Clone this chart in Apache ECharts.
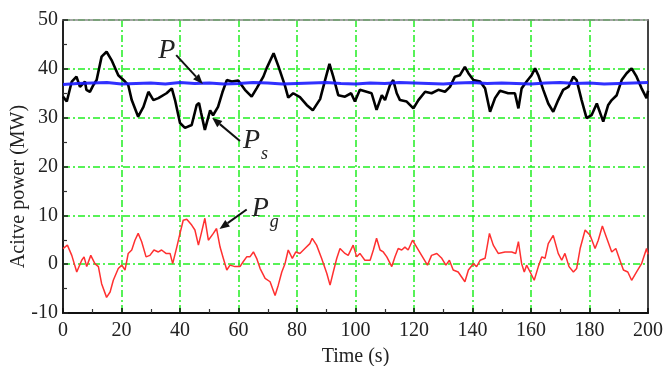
<!DOCTYPE html>
<html><head><meta charset="utf-8">
<script src="https://cdn.jsdelivr.net/npm/echarts@6/dist/echarts.min.js"></script>
<style>html,body{margin:0;padding:0;background:#fff}#c{width:664px;height:366px}</style>
</head><body><div id="c"></div>
<script>
const xTicks = [0,20,40,60,80,100,120,140,160,180,200];
const yTicks = [-10,0,10,20,30,40,50];
const psTime = [0,1.3,3,4.6,5.8,7.5,8,9.2,10.4,11.5,13.2,14.9,16.6,18.9,21.2,22.3,23.5,25.7,27.5,29.2,30.9,32.6,35.4,37.2,38.3,40,41.7,44,45.7,46.5,47.2,48.5,50.3,51.3,53,54.5,56,57.7,59.9,62.2,64.5,66.2,68.5,69.6,72,73.6,75.9,77,78.7,81,83.3,85.4,87.9,89.6,91.1,92.4,94.1,96.4,98.5,99.8,101.5,103.8,105.5,107.2,109,110.1,111.8,112.9,114.1,115.2,117.5,119.8,121.5,123.8,126,128.3,130.6,132.3,134,135.7,137.4,138.6,140.3,142.6,144.3,146,147.7,149.4,152.2,154.5,155.7,156.8,158.5,160.2,161.4,162.5,164.2,165.9,167.6,169.3,171,172.8,174.5,175.6,177.3,179,180.7,182.5,184.7,186.4,187.6,189.3,191,192.7,194.4,196.1,197.8,199.5,200];
const psValues = [34.3,33.3,37.4,38.4,36.3,37.4,35.7,35.3,36.7,37.7,42.5,43.5,41.8,38.7,37.4,36.7,33.6,30.2,32.2,35.3,33.6,34,35,36,33.6,28.9,27.9,28.5,32.6,33,31,27.5,31.5,30.5,32.2,35.2,37.7,37.4,37.6,35.7,34.3,36,38.4,40.1,43.2,40.6,36.5,34.1,35,34.2,32.6,31.5,33.8,37.7,41,38.4,34.6,34.3,35,33.3,35.7,35.3,35,31.6,34.6,33.6,36.7,37.7,35,33.6,33.3,31.9,33.6,35.3,35,35.7,35.3,36.3,38.4,38.7,40.4,39.1,37.7,37.4,36,31.2,34,35.5,35,35,31.9,36,37.4,38.7,40.1,38.7,35.7,32.9,31.2,33.6,35.7,36.3,38.4,37.7,33.6,29.9,30.5,32.9,29.2,32.6,33.6,34.6,37.7,39.1,40.1,38.4,36,34,35.5];
const pgTime = [0,1.5,3,4.7,6.4,7.2,8.1,9.5,10.9,12.1,13.2,14.9,16.1,17.2,18.9,20.1,21.2,22.3,23.5,24.6,25.7,26.9,28.4,29.7,31.1,32.6,33.7,35.2,36.6,37.5,38.9,40,41.1,42.3,44,45.1,46.3,47.4,48.5,49.7,50.3,51.4,52.5,53.7,54.8,56,57.1,58.8,60.5,61.6,62.8,63.9,65.1,66.2,67.4,69.1,70.8,72.5,73.6,74.8,75.9,77,78.4,79.6,81,82.7,84.4,85.2,86.7,88.4,90.2,91.3,92.4,93.6,94.7,96.4,97.5,99.2,100.4,101.5,103.2,105,106.1,107.2,108.4,109.5,110.7,112.4,113.5,114.6,115.8,116.9,118,119.5,120.9,122.6,124.6,126,127.8,129.5,130.9,132.1,133.4,135.1,137.4,138.6,140.3,141.4,142.6,144.3,145.8,147.1,148.8,151.1,153.4,154.8,155.7,156.8,157.7,158.5,159.7,161.1,162.5,163.7,164.8,165.9,167.6,169.3,170.5,171.6,173,174.5,175.6,176.8,178.5,180.2,181.9,183,184.4,185.9,187.6,189,190.4,191.6,193.1,194.4,196.1,197.8,199.5,200];
const pgValues = [3.2,3.9,1.8,-1.6,0.8,1.5,-0.5,1.8,0.1,-0.5,-4,-6.8,-5.7,-3.3,-0.9,-0.2,-1.2,2.2,2.9,4.9,6.3,4.6,1.5,1.8,2.9,2.5,2.9,2.2,2.2,0.1,3.5,6.3,9,9.2,8,7,3.9,6.6,9.4,4.9,4.6,6.3,7.3,3.5,1.2,-1.2,-0.2,-0.5,-0.5,0.5,1.5,1.5,2.5,1.2,-0.9,-2.9,-3.6,-6.4,-4.3,-1.6,0.1,2.9,1.2,2.5,2.2,3.2,4.2,5.3,3.9,1.2,-1.9,-4.3,-1.6,1.2,3.2,2.2,1.8,3.9,1.5,2.2,0.8,0.8,2.9,5.3,2.9,2.5,1.5,-0.5,1.5,3.2,2.9,3.5,2.9,4.9,3.5,1.8,-0.2,1.8,2.2,1.2,-0.2,0.8,-1.2,-1.6,-3.6,-1.2,0.1,-0.5,0.8,1.2,6.3,3.9,2.2,2.5,2.5,2.2,4.6,0.1,-1.6,-0.2,-1.6,-3.3,-0.5,1.5,1.2,4.2,5.9,2.2,0.8,2.2,-0.5,-1.6,-0.9,3.2,7,5.9,3.2,4.9,7.8,5.3,2.5,3.2,0.8,-1.2,-1.6,-3.3,-1.6,0.1,3.2,2];
const pTime = [0,5,10,15,20,25,30,35,40,45,50,55,60,65,70,75,80,85,90,95,100,105,110,115,120,125,130,135,140,145,150,155,160,165,170,175,180,185,190,195,200];
const pValues = [36.8,37.0,37.1,37.2,36.9,37.0,37.1,36.9,37.2,37.0,37.1,36.9,37.0,37.2,37.1,36.9,37.0,37.1,37.2,37.0,36.9,37.1,37.0,37.2,37.1,37.0,36.9,37.1,37.2,37.0,37.1,37.0,36.9,37.1,37.2,37.0,37.1,36.9,37.0,37.1,37.2];

const zip = (a,b) => a.map((t,i)=>[t,b[i]]);
const serif = '"Liberation Serif", "Times New Roman", serif';
const green = '#22ee22';
const chart = echarts.init(document.getElementById('c'), null, {renderer:'canvas'});
chart.setOption({
  animation:false,
  grid:{left:63,right:16,top:20,bottom:53,containLabel:false,outerBoundsMode:'none'},
  xAxis:[{
    type:'value',min:xTicks[0],max:xTicks[xTicks.length-1],interval:20,
    name:'Time (s)',nameLocation:'middle',nameGap:34,nameMoveOverlap:false,
    nameTextStyle:{fontFamily:serif,fontSize:20,color:'#222'},
    axisLine:{onZero:false,lineStyle:{color:'#111',width:2}},
    axisTick:{inside:true,length:5,lineStyle:{color:'#111',width:1.5}},
    minorTick:{show:true,splitNumber:2,length:4,lineStyle:{color:'#333',width:1.2}},
    axisLabel:{fontFamily:serif,fontSize:20,color:'#222',margin:8},
    splitLine:{show:true,lineStyle:{color:green,width:1.5,type:[7,3,2,3]}}
  },{
    type:'value',position:'top',min:0,max:200,
    axisLine:{show:true,onZero:false,lineStyle:{color:'#888',width:1.5}},
    axisTick:{show:false},axisLabel:{show:false},splitLine:{show:false}
  }],
  yAxis:[{
    type:'value',min:yTicks[0],max:yTicks[yTicks.length-1],interval:10,
    name:'Acitve power (MW)',nameLocation:'middle',nameGap:34,nameMoveOverlap:false,
    nameTextStyle:{fontFamily:serif,fontSize:20,color:'#222',padding:[0,40,0,0]},
    axisLine:{show:true,onZero:false,lineStyle:{color:'#222',width:2}},
    axisTick:{show:true,inside:true,length:5,lineStyle:{color:'#222',width:1.5}},
    minorTick:{show:true,splitNumber:2,length:4,lineStyle:{color:'#333',width:1.2}},
    axisLabel:{fontFamily:serif,fontSize:20,color:'#222',margin:5},
    splitLine:{show:true,lineStyle:{color:green,width:1.5,type:[7,3,2,3]}}
  },{
    type:'value',position:'right',min:-10,max:50,
    axisLine:{show:true,onZero:false,lineStyle:{color:'#444',width:2}},
    axisTick:{show:false},axisLabel:{show:false},splitLine:{show:false}
  }],
  series:[
    {name:'Pg',type:'line',data:zip(pgTime,pgValues),showSymbol:false,smooth:false,
     lineStyle:{color:'#ff3030',width:1.5},z:3},
    {name:'Ps',type:'line',data:zip(psTime,psValues),showSymbol:false,
     lineStyle:{color:'#000',width:2.6},z:4},
    {name:'P',type:'line',data:zip(pTime,pValues),showSymbol:false,
     lineStyle:{color:'#1a1aff',width:3,opacity:0.9},z:5}
  ]
});

// annotations positioned in data coordinates
function px(t,v){return chart.convertToPixel({xAxisIndex:0,yAxisIndex:0},[t,v]);}
function arrow(from,to){
  const a=px(from[0],from[1]), b=px(to[0],to[1]);
  const ang=Math.atan2(b[1]-a[1],b[0]-a[0]), L=10, W=4;
  const bx=b[0]-L*Math.cos(ang), by=b[1]-L*Math.sin(ang);
  const nx=-Math.sin(ang)*W, ny=Math.cos(ang)*W;
  return [
    {type:'line',shape:{x1:a[0],y1:a[1],x2:bx,y2:by},style:{stroke:'#111',lineWidth:2},z:10},
    {type:'polygon',shape:{points:[[b[0],b[1]],[bx+nx,by+ny],[bx-nx,by-ny]]},style:{fill:'#111'},z:10}
  ];
}
function label(t,v,main,sub){
  const p=px(t,v), els=[];
  els.push({type:'text',x:p[0],y:p[1],style:{text:main,font:'italic 28px '+serif,fill:'#222',textVerticalAlign:'middle'},z:11});
  if(sub){els.push({type:'text',x:p[0]+18,y:p[1]+14,style:{text:sub,font:'italic 18px '+serif,fill:'#222',textVerticalAlign:'middle'},z:11});}
  return els;
}
const g=[]
  .concat(label(32.6,43.8,'P'))
  .concat(arrow([38.7,42.8],[47.8,36.9]))
  .concat(label(61.5,25.3,'P','s'))
  .concat(arrow([60.5,25.2],[51,30]))
  .concat(label(64.5,11.4,'P','g'))
  .concat(arrow([62.8,11.2],[53.5,7.2]));
chart.setOption({graphic:g});
</script></body></html>
